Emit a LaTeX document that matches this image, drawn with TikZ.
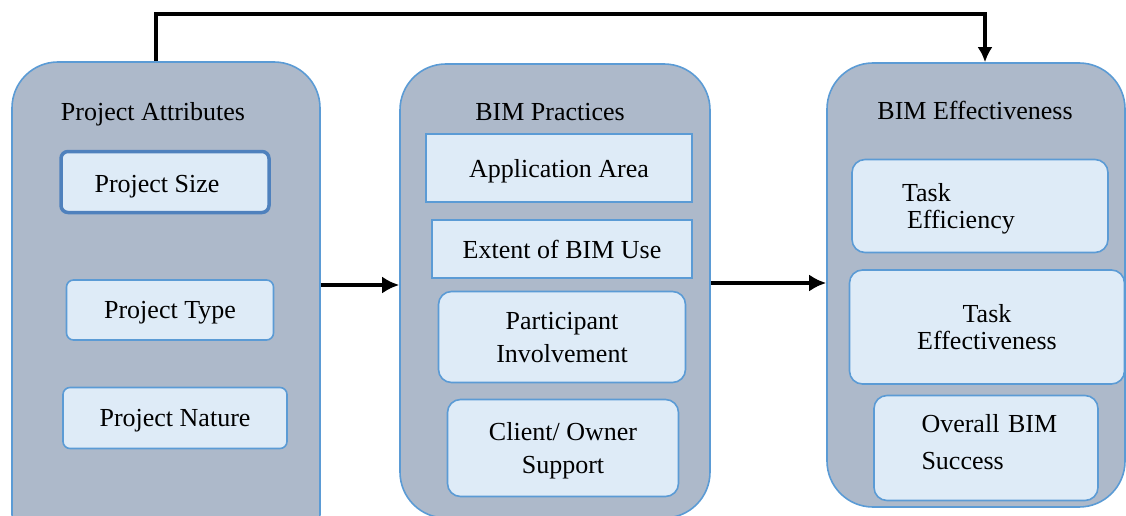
\documentclass[tikz,border=0pt]{standalone}
\usepackage{fontspec}
\setmainfont{Liberation Serif}
\usepackage{xcolor}
\usetikzlibrary{arrows.meta,positioning}
\definecolor{panelfill}{HTML}{ADB9CA}
\definecolor{edgeblue}{HTML}{5B9BD5}
\definecolor{keyblue}{HTML}{4F81BD}
\definecolor{itemfill}{HTML}{DEEBF7}
\tikzset{
  >=Latex,
  every node/.style={font=\fontsize{26}{30}\selectfont,text=black,text depth=0pt},
  panel/.style={draw=edgeblue,line width=1.6pt,fill=panelfill,rounded corners=46pt,inner sep=0pt},
  factor/.style={draw=edgeblue,line width=1.6pt,fill=itemfill,rounded corners=7pt,align=center,inner sep=0pt},
  factorsq/.style={factor,sharp corners},
  factorkey/.style={factor,draw=keyblue,line width=3.5pt},
  softbox/.style={factor,rounded corners=13pt},
  leftbox/.style={softbox,align=left,text depth=},
  heading/.style={inner sep=0pt},
  arrow/.style={-{Latex[length=17pt,width=17pt]},line width=4pt,draw=black},
  feedback/.style={-{Latex[length=15pt,width=15pt]},line width=3.5pt,draw=black}
}
\begin{document}
\begin{tikzpicture}[x=1pt,y=-1pt]
  \clip (0,0) rectangle (1126,516);

  % three groups
  \node[panel,minimum width=308pt,minimum height=498pt] (attrs) at (166,311) {};
  \node[panel,minimum width=310pt,minimum height=454pt] (practice) at (555,291) {};
  \node[panel,minimum width=298pt,minimum height=444pt] (outcome) at (976,285) {};

  \node[heading] (attrstitle) at (153,111) {Project Attributes};
  \node[heading] (practicetitle) at (550,112) {BIM Practices};
  \node[heading] (outcometitle) at (975,110) {BIM Effectiveness};

  % project attributes
  \node[factorkey,minimum width=208pt,minimum height=61pt] (psize) at (165,182) {\hspace*{-16pt}\raisebox{-3pt}{Project Size}};
  \node[factor,minimum width=207pt,minimum height=60pt] (ptype) at (170,310) {Project Type};
  \node[factor,minimum width=224pt,minimum height=61pt] (pnature) at (175,418) {Project Nature};

  % BIM practices
  \node[factorsq,minimum width=266pt,minimum height=68pt] (apparea) at (559,168) {Application Area};
  \node[factorsq,minimum width=260pt,minimum height=58pt] (extent) at (562,249) {Extent of BIM Use};
  \node[softbox,minimum width=247pt,minimum height=91pt] (involve) at (562,337) {Participant\\[3pt]Involvement};
  \node[softbox,minimum width=231pt,minimum height=97pt] (support) at (563,448) {Client/ Owner\\[3pt]Support};

  % BIM effectiveness
  \node[leftbox,minimum width=256pt,minimum height=93pt,text width=156pt] (effic) at (980,206) {Task\\[-3pt]\hspace*{5pt}Efficiency\par\vspace*{-6pt}};
  \node[softbox,minimum width=275pt,minimum height=114pt] (effect) at (987,327) {Task\\[-3pt]Effectiveness};
  \node[leftbox,minimum width=224pt,minimum height=105pt,text width=145pt] (success) at (986,448) {\hspace*{8pt}Overall BIM\\[7pt]\hspace*{8pt}Success\par\vspace*{12pt}};

  % links
  \draw[arrow] (attrs.east |- 0,285) -- (practice.west |- 0,285);
  \draw[arrow] (practice.east |- 0,283) -- (outcome.west |- 0,283);
  \draw[feedback] ([xshift=-10pt]attrs.north) -- ++(0,-47) -| ([xshift=9pt]outcome.north);
\end{tikzpicture}
\end{document}
